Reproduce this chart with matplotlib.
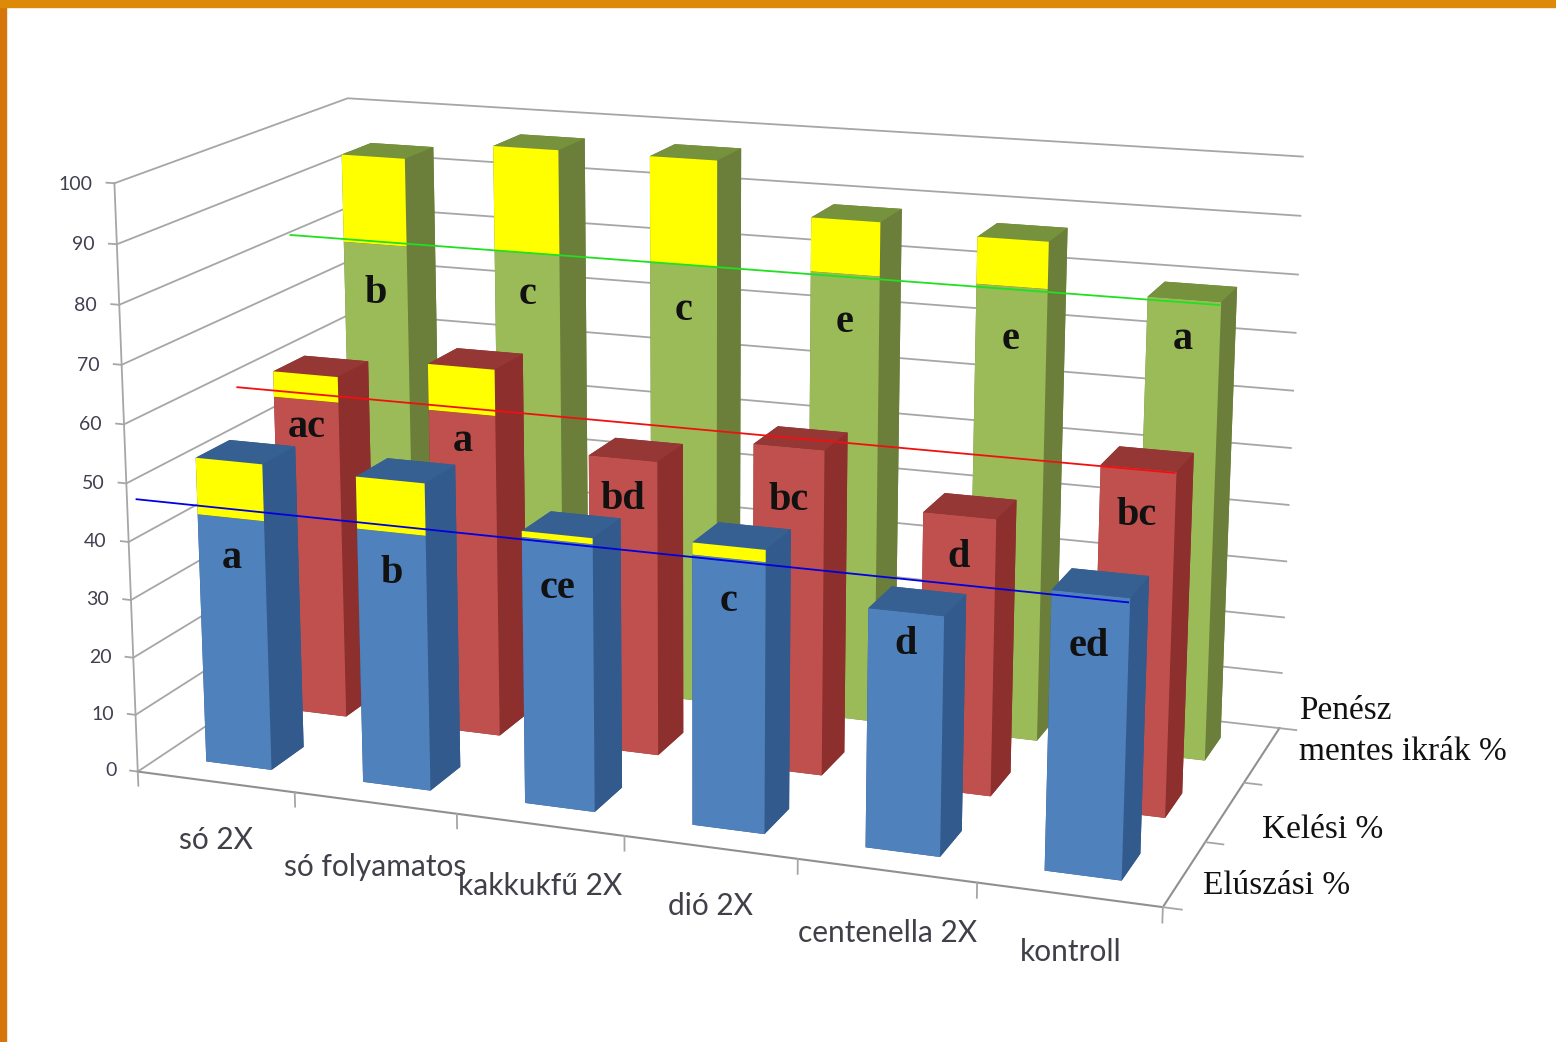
import numpy as np
import matplotlib
matplotlib.use('Agg')
import matplotlib.pyplot as plt
from matplotlib.patches import Rectangle

categories = ['só 2X', 'só folyamatos', 'kakkukfű 2X', 'dió 2X', 'centenella 2X', 'kontroll']
series_names = ['Elúszási %', 'Kelési %', 'Penész\nmentes ikrák %']
z_ticks = [0, 10, 20, 30, 40, 50, 60, 70, 80, 90, 100]

# lower part of each bar / total with yellow part
blue_base = [43.3, 43.7, 45.2, 45.2, 39.5, 45.5]
blue_total = [53, 52.5, 46.2, 47.2, 39.5, 45.5]
red_base = [56.5, 56.7, 51.4, 56, 47.2, 57.8]
red_total = [61, 64.7, 51.4, 56, 47.2, 57.8]
green_base = [78, 78.5, 78.5, 79, 79, 79]
green_total = [93.7, 97, 97, 88.3, 87, 79]
blue_letters = ['a', 'b', 'ce', 'c', 'd', 'ed']
red_letters = ['ac', 'a', 'bd', 'bc', 'd', 'bc']
green_letters = ['b', 'c', 'c', 'e', 'e', 'a']
means = [44.8, 57.6, 78.5]

# how far each letter sits below the top of the lower part
blue_drop = [7, 7, 8, 7, 5.3, 8.4]
red_drop = [5, 5, 7, 9, 7, 7.7]
green_drop = [9, 7.5, 8, 8.5, 9, 6.7]

plt.rcParams['font.family'] = ['Lato', 'DejaVu Sans']
fig = plt.figure(figsize=(15.56, 10.42), dpi=100)
fig.patch.set_facecolor('white')
fig.add_artist(Rectangle((0, 0), 6/1556, 1, transform=fig.transFigure, color='#d4760a'))
fig.add_artist(Rectangle((0, 1-7/1042), 1, 7/1042, transform=fig.transFigure, color='#dc8a08'))

# square axes as wide as the figure, so nothing gets clipped
ax = fig.add_axes([0, -0.2466, 1, 1.4933], projection='3d', computed_zorder=False)
ax.patch.set_alpha(0)
ax.set_xlim(0, 6)
ax.set_ylim(0, 3)
ax.set_zlim(0, 100)
ax.set_axis_off()
ax.apply_aspect()

# the old Excel view is no true camera, so fit the projection to where the box corners sit
box_corners = [(0, 0, 0), (6, 0, 0), (6, 3, 0), (0, 0, 100), (0, 3, 100), (6, 3, 100)]
box_pixels = [(138, 772), (1162, 908), (1280, 727), (115, 182), (347, 99), (1303, 157)]
A, b = [], []
for (x, y, z), (u, v) in zip(box_corners, box_pixels):
    u, v = ax.transData.inverted().transform((u, 1042 - v))
    z = z / 100
    A.append([x, y, z, 1, 0, 0, 0, 0, -u*x, -u*y, -u*z])
    A.append([0, 0, 0, 0, x, y, z, 1, -v*x, -v*y, -v*z])
    b += [u, v]
p = np.linalg.lstsq(np.array(A), np.array(b), rcond=None)[0]
M = np.array([[p[0], p[1], p[2]/100, p[3]],
              [p[4], p[5], p[6]/100, p[7]],
              [-0.05, 0.33, -0.005, -3],   # only for the order of faces, far is larger
              [p[8], p[9], p[10]/100, 1]])
ax.get_proj = lambda: M

grey = '#a6a6a6'
for z in z_ticks:
    ax.plot([0, 0, 6], [0, 3, 3], [z, z, z], color=grey, lw=1.3, zorder=1)
    ax.plot([0, -0.05], [0, 0], [z, z], color=grey, lw=1.3, zorder=1)
    ax.text(-0.14, 0, z - 0.4, str(z), ha='right', va='center', fontsize=14, color='#404050', zorder=300)
ax.plot([0, 0], [0, 0], [0, 100], color=grey, lw=1.3, zorder=1)
ax.plot([0, 6, 6], [0, 0, 3], [0, 0, 0], color='#909090', lw=1.5, zorder=1)
for i in range(7):
    ax.plot([i, i], [0, 0], [0, -2.5], color=grey, lw=1.3, zorder=1)
for j in range(4):
    ax.plot([6, 6.1], [j, j], [0, 0], color=grey, lw=1.3, zorder=1)

front = ['#4f81bd', '#c0504d', '#9bbb59']
side = ['#325a8c', '#8c2f2d', '#6b7f3a']
top = ['#376092', '#953735', '#76923c']
lines = ['#0000e0', '#f01010', '#20e020']
bases = [blue_base, red_base, green_base]
totals = [blue_total, red_total, green_total]
letters = [blue_letters, red_letters, green_letters]
drops = [blue_drop, red_drop, green_drop]
line_start = [-0.1, 0.05, -0.07]
bar_w, bar_d = 0.42, 0.42

zo = 2
for s in [2, 1, 0]:
    y0 = s + 0.5 - bar_d / 2
    for i in range(6):
        x0 = i + 0.5 - bar_w / 2
        base, total = bases[s][i], totals[s][i]
        cols = [side[s], top[s], front[s], side[s], side[s], side[s]]
        ax.bar3d(x0, y0, 0, bar_w, bar_d, base, color=cols, shade=False, zorder=zo)
        zo += 1
        if total > base:
            cols = [side[s], top[s], '#ffff00', side[s], side[s], side[s]]
            ax.bar3d(x0, y0, base, bar_w, bar_d, total - base, color=cols, shade=False, zorder=zo)
            zo += 1
        ax.text(i + 0.5, y0, base - drops[s][i], letters[s][i], ha='center', va='center', fontsize=29,
                family='Liberation Serif', fontweight='bold', color='#111111', zorder=zo)
        zo += 1
    ax.plot([line_start[s], 5.7], [y0, y0], [means[s], means[s]], color=lines[s], lw=1.3, zorder=zo)
    zo += 1

cat_z = [-9, -10, -9.3, -8.7, -9, -8]
for i, name in enumerate(categories):
    ax.text(i + 0.54, -0.1, cat_z[i], name, ha='center', va='center', fontsize=21.5, color='#404048', zorder=300)
series_x = [6.13, 6.25, 6.12]
series_y = [0.37, 1.3, 2.98]
for s, name in enumerate(series_names):
    ax.text(series_x[s], series_y[s], 0, name, ha='left', va='center', fontsize=24, linespacing=1.45,
            family='Liberation Serif', color='#111111', zorder=300)

fig.savefig('out.png', dpi=100)
